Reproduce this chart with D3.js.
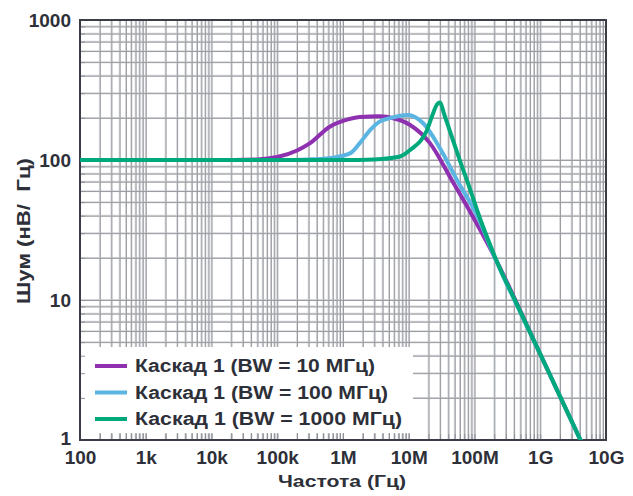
<!DOCTYPE html>
<html><head><meta charset="utf-8">
<script src="https://cdn.jsdelivr.net/npm/d3@7"></script>
<style>body{margin:0;background:#fff}svg{display:block}text{font-family:"Liberation Sans",Arial,sans-serif;font-weight:bold;fill:#2e3039}</style>
</head><body><svg id="c" width="633" height="496"></svg>
<script>
// ---- data ----
const xTickValues = [1e2,1e3,1e4,1e5,1e6,1e7,1e8,1e9,1e10];
const xTickLabels = ["100","1k","10k","100k","1M","10M","100M","1G","10G"];
const yTickValues = [1,10,100,1000];
const yTickLabels = ["1","10","100","1000"];
const seriesNames = ["Каскад 1 (BW = 10 МГц)","Каскад 1 (BW = 100 МГц)","Каскад 1 (BW = 1000 МГц)"];
const seriesColors = ["#8e30b0","#5bb5e2","#00a97c"];
const freq10 = [1e2,1e4,5e4,1e5,2e5,3.16e5,6.3e5,1e6,1.8e6,3.6e6,6e6,1.05e7,2.1e7,4.5e7,8.5e7,2e8,1e9,6e9];
const noise10 = [100,100,101,105,117,132,173,190,203,205,198,178,132,72,43,20.5,4.1,0.68];
const freq100 = [1e2,1e5,3e5,7e5,1.3e6,1.8e6,2.6e6,3.6e6,5.2e6,9.7e6,1.66e7,3e7,5.4e7,1.1e8,2e8,1e9,6e9];
const noise100 = [100,100,101,104,112,132,164,188,199,210,183,121,72,40,20.5,4.1,0.68];
const freq1000 = [1e2,1e6,3e6,7.4e6,1.05e7,1.9e7,2.35e7,2.7e7,3e7,3.44e7,4.24e7,6e7,8.55e7,1.13e8,2.04e8,4.9e8,1e9,6e9];
const noise1000 = [100,100,101,106,118,164,216,250,257,214,160,99,62,42,20.4,8.4,4.1,0.68];

const svg = d3.select("#c");
const L=80,R=606,T=20,B=440;
const x = d3.scaleLog().domain([1e2,1e10]).range([L,R]);
const y = d3.scaleLog().domain([1,1000]).range([B,T]);

// grid values
const xMinor=[], yMinor=[];
for(let d=2; d<10; d++){ for(let k=1e2;k<1e10;k*=10) xMinor.push(k*d); }
for(let d=2; d<10; d++){ for(let k=1;k<1000;k*=10) yMinor.push(k*d); }
const xAll = xMinor.concat(xTickValues), yAll = yMinor.concat(yTickValues);

const g = svg.append("g");
g.selectAll("line.gx").data(xAll).join("line").attr("class","gx")
 .attr("x1",d=>x(d)).attr("x2",d=>x(d)).attr("y1",T).attr("y2",B)
 .attr("stroke","#d5d6d9").attr("stroke-width",1.8);
g.selectAll("line.gy").data(yAll).join("line").attr("class","gy")
 .attr("y1",d=>y(d)).attr("y2",d=>y(d)).attr("x1",L).attr("x2",R)
 .attr("stroke","#d5d6d9").attr("stroke-width",1.8);
g.selectAll("line.gx2").data(xAll).join("line").attr("class","gx2")
 .attr("x1",d=>x(d)+0.5).attr("x2",d=>x(d)+0.5).attr("y1",T).attr("y2",B)
 .attr("stroke","#9a9ca2").attr("stroke-width",1);
g.selectAll("line.gy2").data(yAll).join("line").attr("class","gy2")
 .attr("y1",d=>y(d)+0.5).attr("y2",d=>y(d)+0.5).attr("x1",L).attr("x2",R)
 .attr("stroke","#9a9ca2").attr("stroke-width",1);

// legend background
svg.append("rect").attr("x",L+1).attr("y",347).attr("width",332).attr("height",B-347-7).attr("fill","#fff");

// inner ticks
svg.append("g").attr("transform",`translate(0,${B})`)
 .call(d3.axisBottom(x).tickValues(xAll).tickSizeInner(-6).tickSizeOuter(0).tickFormat(""))
 .call(s=>{s.select(".domain").remove(); s.selectAll("line").attr("stroke","#8f9197");});
svg.append("g").attr("transform",`translate(${L},0)`)
 .call(d3.axisLeft(y).tickValues(yAll).tickSizeInner(-5).tickSizeOuter(0).tickFormat(""))
 .call(s=>{s.select(".domain").remove(); s.selectAll("line").attr("stroke","#8f9197");});

// frame
svg.append("rect").attr("x",L).attr("y",T).attr("width",R-L).attr("height",B-T)
 .attr("fill","none").attr("stroke","#3a3d45").attr("stroke-width",2);

// tick labels via axes
svg.append("g").attr("transform",`translate(0,${B})`)
 .call(d3.axisBottom(x).tickValues(xTickValues).tickSize(0).tickPadding(10).tickFormat((d,i)=>xTickLabels[i]))
 .call(s=>{s.select(".domain").remove(); s.selectAll("text").attr("font-size",19).attr("dy","0.72em").style("font-family","Liberation Sans, Arial").style("font-weight","bold").attr("fill","#2e3039");});
svg.append("g").attr("transform",`translate(${L},0)`)
 .call(d3.axisLeft(y).tickValues(yTickValues).tickSize(0).tickPadding(9).tickFormat((d,i)=>yTickLabels[i]))
 .call(s=>{s.select(".domain").remove(); s.selectAll("text").attr("font-size",19).attr("dy",(d,i)=>i===0?"0.22em":"0.32em").style("font-family","Liberation Sans, Arial").style("font-weight","bold").attr("fill","#2e3039");});

// titles
svg.append("text").attr("x",342).attr("y",487).attr("text-anchor","middle").attr("font-size",16.5)
 .attr("textLength",128).attr("lengthAdjust","spacingAndGlyphs").text("Частота (Гц)");
svg.append("text").attr("transform",`translate(29.5,231) rotate(-90)`).attr("text-anchor","middle").attr("font-size",19)
 .attr("textLength",146).attr("lengthAdjust","spacingAndGlyphs").text("Шум (нВ/\u00a0\u00a0Гц)");

// curves
const series = [[freq10,noise10],[freq100,noise100],[freq1000,noise1000]];
svg.append("clipPath").attr("id","cp").append("rect").attr("x",L).attr("y",T).attr("width",R-L).attr("height",B-T);
const line = d3.line().x(d=>x(d[0])).y(d=>y(d[1])).curve(d3.curveMonotoneX);
series.forEach((s,i)=>{
  const pts = s[0].map((f,j)=>[f,s[1][j]]);
  svg.append("path").attr("clip-path","url(#cp)").attr("d",line(pts)).attr("fill","none")
   .attr("stroke",seriesColors[i]).attr("stroke-width",4).attr("stroke-linejoin","round");
});

// legend
const legendWidths = [240,253,267];
const lg = svg.append("g");
seriesNames.forEach((n,i)=>{
  const yy = 366 + i*26.5;
  lg.append("line").attr("x1",95).attr("x2",127).attr("y1",yy).attr("y2",yy).attr("stroke",seriesColors[i]).attr("stroke-width",4);
  lg.append("text").attr("x",135).attr("y",yy).attr("dy","0.36em").attr("font-size",17.5)
   .attr("textLength",legendWidths[i]).attr("lengthAdjust","spacingAndGlyphs").text(n);
});
</script></body></html>
